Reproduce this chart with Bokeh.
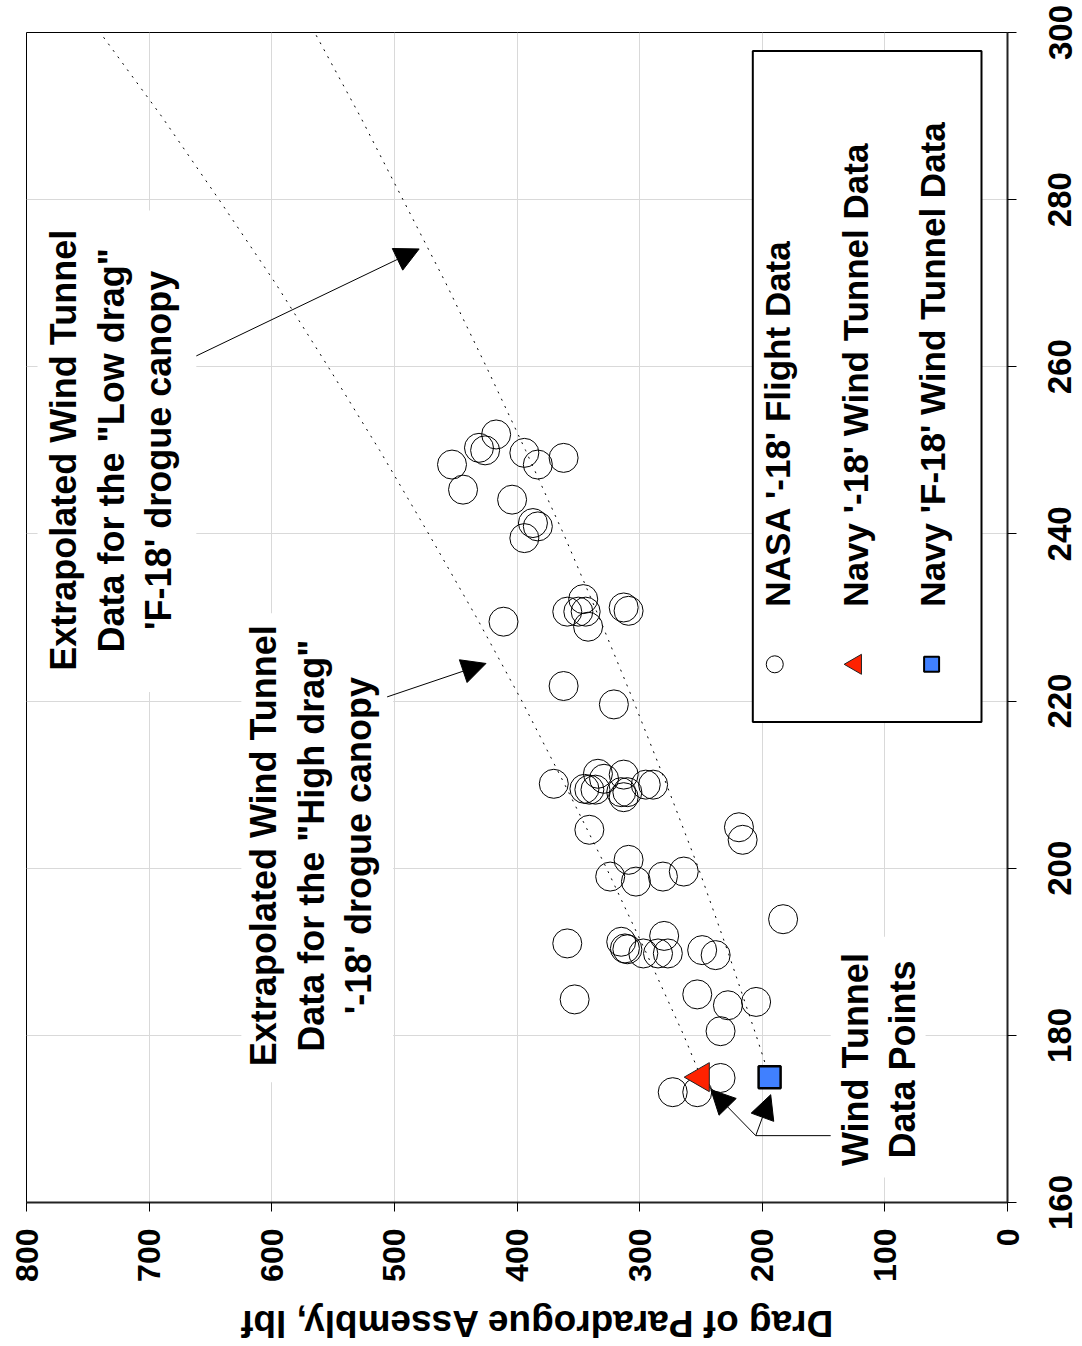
import math
from bokeh.plotting import figure
from bokeh.layouts import row, column
from bokeh.models import Range1d, Arrow, NormalHead, CustomLabelingPolicy
from bokeh.core.properties import value
from bokeh.embed import file_html
from bokeh.resources import INLINE

# ---------------- data ----------------
# NASA '-18' flight data: velocity (KEAS) and drag (lbf)
nasa_vel = [251.9, 250.3, 250.0, 248.3, 245.3, 249.7, 248.3, 249.1, 244.1, 241.3,
            240.9, 239.5, 229.5, 232.2, 230.7, 230.7, 230.7, 228.9, 231.2, 230.8,
            221.8, 219.6, 210.1, 211.3, 210.7, 209.4, 209.4, 209.5, 211.2, 209.1,
            209.1, 208.5, 210.0, 210.0, 204.6, 204.9, 203.4, 199.0, 198.4, 199.0,
            199.6, 201.0, 193.9, 191.0, 191.2, 190.4, 190.3, 191.9, 189.8, 189.8,
            189.8, 190.2, 189.6, 184.3, 184.9, 183.6, 184.0, 180.5, 173.2, 173.2,
            174.9]
nasa_drag = [417, 431, 426, 453, 444, 394, 383, 362, 404, 387,
             383, 394, 411, 346, 359, 350, 344, 342, 313, 309,
             362, 321, 370, 334, 329, 341, 336, 345, 313, 310,
             315, 313, 295, 289, 341, 219, 216, 324, 303, 281,
             264, 309, 183, 359, 315, 312, 310, 280, 297, 285,
             277, 249, 238, 353, 253, 228, 205, 234, 273, 253,
             234]

navy18_vel = [175]
navy18_drag = [250]
navyF18_vel = [175]
navyF18_drag = [194]

# extrapolated wind tunnel curves
ext_vel = [175, 180, 190, 200, 210, 220, 230, 240, 250, 260, 270, 280, 290, 300]
ext_high_drag = [250, 264, 295, 327, 361, 396, 433, 472, 512, 554, 597, 643, 690, 740]
ext_low_drag = [194, 205, 228, 252, 278, 305, 333, 362, 393, 425, 458, 493, 528, 565]

drag_ticks = [0, 100, 200, 300, 400, 500, 600, 700, 800]
vel_ticks = [160, 180, 200, 220, 240, 260, 280, 300]

legend_labels = ["NASA '-18' Flight Data", "Navy '-18' Wind Tunnel Data",
                 "Navy 'F-18' Wind Tunnel Data"]
axis_title = "Drag of Paradrogue Assembly, lbf"

FONT = "Liberation Sans"
H_MAIN = 1298
B_BOTTOM = 96

p = figure(width=1027, height=H_MAIN, x_range=Range1d(800, 0), y_range=Range1d(160, 300),
           y_axis_location="right", output_backend="svg", toolbar_location=None,
           min_border_left=26, min_border_top=32, min_border_right=20,
           min_border_bottom=B_BOTTOM)
p.background_fill_color = "white"
p.border_fill_color = "white"
p.outline_line_color = "black"
p.outline_line_width = 1

p.xaxis.ticker = drag_ticks
p.yaxis.ticker = vel_ticks
p.xgrid.ticker = drag_ticks
p.ygrid.ticker = vel_ticks
p.grid.grid_line_color = "#d9d9d9"
p.grid.grid_line_width = 1

for ax in (p.xaxis[0], p.yaxis[0]):
    ax.axis_line_color = "#222222"
    ax.axis_line_width = 2
    ax.major_tick_line_color = "black"
    ax.major_tick_out = 9
    ax.major_tick_in = 0
    ax.minor_tick_out = 0
    ax.minor_tick_in = 0

p.xaxis.major_label_orientation = math.pi / 2
p.xaxis.major_label_text_font = FONT
p.xaxis.major_label_text_font_style = "bold"
p.xaxis.major_label_text_font_size = "32px"
p.xaxis.major_label_text_color = "black"
p.xaxis.major_label_standoff = 17
# the right axis only draws its line and ticks; its labels come from the strip `r`
p.yaxis.major_label_text_font_size = "0px"
p.yaxis.major_label_standoff = 0
p.yaxis.major_label_policy = CustomLabelingPolicy(
    code="for (const i of indices) { indices.unset(i) } return indices")

# extrapolated curves
p.line(ext_high_drag, ext_vel, line_color="black", line_width=1, line_dash="2 6")
p.line(ext_low_drag, ext_vel, line_color="black", line_width=1, line_dash="2 6")

# data
p.scatter(nasa_drag, nasa_vel, marker="circle", size=29, fill_alpha=0,
          line_color="black", line_width=1)
p.scatter(navy18_drag, navy18_vel, marker="triangle", size=29, angle=math.pi / 2,
          fill_color="#ff2200", line_color="#222222", line_width=1)
p.scatter(navyF18_drag, navyF18_vel, marker="square", size=22,
          fill_color="#4080ff", line_color="black", line_width=2.5)

# white backgrounds for annotation texts
p.quad(left=[791, 624.8, 144.2], right=[661.5, 501.0, 66.8],
       top=[278.7, 230.5, 191.8], bottom=[221.1, 174.4, 163.0],
       fill_color="white", line_color=None)

def txt(xs, ys, texts, align="center", size="36px"):
    p.text(xs, ys, text=texts, angle=math.pi / 2, text_align=align,
           text_baseline="middle", text_font=value(FONT), text_font_style="bold",
           text_font_size=size, text_color="black")

txt([769.8, 730.8, 692.5], [250.0, 250.0, 250.0],
    ["Extrapolated Wind Tunnel", 'Data for the "Low drag"', "'F-18' drogue canopy"])
txt([606.9, 567.8, 529.5], [202.7, 202.7, 202.7],
    ["Extrapolated Wind Tunnel", 'Data for the "High drag"', "'-18' drogue canopy"])
txt([123.8, 85.5], [177.1, 177.1], ["Wind Tunnel", "Data Points"])

# legend box
p.quad(left=[207.7], right=[21.2], top=[297.8], bottom=[217.5],
       fill_color="white", line_color="black", line_width=2)
p.scatter([189.8], [224.4], marker="circle", size=17, fill_alpha=0,
          line_color="black", line_width=1)
p.scatter([123.8], [224.4], marker="triangle", size=20, angle=math.pi / 2,
          fill_color="#ff2200", line_color="#222222", line_width=1)
p.scatter([61.9], [224.4], marker="square", size=15,
          fill_color="#4080ff", line_color="black", line_width=2)
txt([187.4, 123.8, 61.1], [231.3, 231.3, 231.3], legend_labels, align="left", size="35px")

# arrows
def arrow(x0, y0, x1, y1, head=True):
    p.add_layout(Arrow(end=NormalHead(size=24, fill_color="black", line_color="black") if head else None,
                       x_start=x0, y_start=y0, x_end=x1, y_end=y1,
                       line_color="black", line_width=1))

arrow(661.5, 261.3, 479.8, 274.1)
arrow(505.9, 220.5, 425.3, 224.5)
arrow(144.2, 168.0, 205.3, 168.0, head=False)
arrow(205.3, 168.0, 241.9, 173.5)
arrow(205.3, 168.0, 193.1, 172.9)

# right-hand tick labels (reading upward), drawn by an axis sharing the y range
r = figure(width=54, height=H_MAIN, x_range=Range1d(0, 1), y_range=p.y_range,
           x_axis_location=None, y_axis_location="left", output_backend="svg",
           toolbar_location=None, min_border_left=44, min_border_right=0,
           min_border_top=32, min_border_bottom=B_BOTTOM)
r.outline_line_color = None
r.background_fill_color = "white"
r.border_fill_color = "white"
r.grid.visible = False
r.yaxis.ticker = vel_ticks
r.yaxis.axis_line_color = None
r.yaxis.major_tick_line_color = None
r.yaxis.minor_tick_line_color = None
r.yaxis.major_tick_out = 0
r.yaxis.major_tick_in = 0
r.yaxis.minor_tick_out = 0
r.yaxis.minor_tick_in = 0
r.yaxis.major_label_standoff = 0
r.yaxis.major_label_orientation = "vertical"
r.yaxis.major_label_text_font = FONT
r.yaxis.major_label_text_font_style = "bold"
r.yaxis.major_label_text_font_size = "33px"
r.yaxis.major_label_text_color = "black"

# bottom strip with the (upside-down) drag axis title
B_H = 47
b = figure(width=1081, height=B_H, x_range=Range1d(0, 1081), y_range=Range1d(B_H, 0),
           x_axis_location=None, y_axis_location=None, output_backend="svg",
           toolbar_location=None, min_border=0)
b.outline_line_color = None
b.grid.visible = False
b.text([536], [25], text=[axis_title], angle=math.pi, text_align="center",
       text_baseline="middle", text_font=value(FONT), text_font_style="bold",
       text_font_size="37px", text_color="black")

layout = column(row(p, r), b)
open("out.html", "w").write(file_html(layout, INLINE))
